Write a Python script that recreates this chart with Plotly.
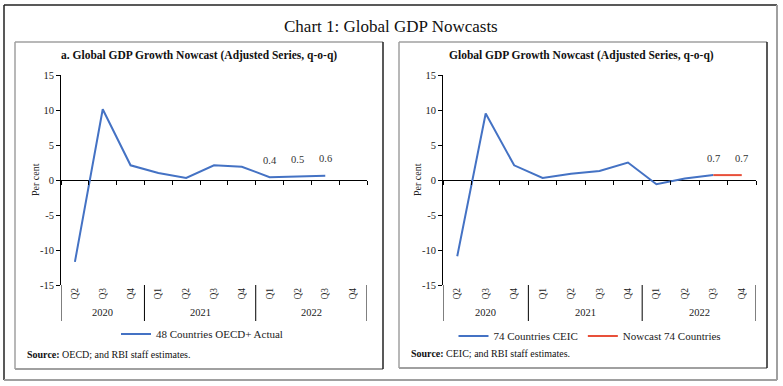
import plotly.graph_objects as go

W, H = 783, 386

years = ["2020"] * 3 + ["2021"] * 4 + ["2022"] * 4
quarters = ["Q2", "Q3", "Q4", "Q1", "Q2", "Q3", "Q4", "Q1", "Q2", "Q3", "Q4"]
flat_labels = [f"{y} {q}" for y, q in zip(years, quarters)]

y_tick_vals = [-15, -10, -5, 0, 5, 10, 15]
y_tick_text = ["-15", "-10", "-5", "0", "5", "10", "15"]

oecd_actual = [-11.7, 10.1, 2.1, 1.0, 0.3, 2.1, 1.9, 0.4, 0.5, 0.6, None]
ceic_actual = [-10.9, 9.5, 2.1, 0.3, 0.9, 1.3, 2.5, -0.6, 0.2, 0.7, None]
nowcast_74 = [None, None, None, None, None, None, None, None, None, 0.7, 0.7]

left_labels_idx = [7, 8, 9]
right_labels_idx = [9, 10]

BLUE = "#4472C4"
RED = "#E8503A"
FONT = "Liberation Serif"


def px(x):
    return x / W


def py(y):
    return 1 - y / H


fig = go.Figure()

fig.add_trace(go.Scatter(x=flat_labels, y=oecd_actual, mode="lines",
                         line=dict(color=BLUE, width=2),
                         name="48 Countries OECD+ Actual",
                         xaxis="x", yaxis="y", legend="legend"))
fig.add_trace(go.Scatter(x=flat_labels, y=ceic_actual, mode="lines",
                         line=dict(color=BLUE, width=2),
                         name="74 Countries CEIC",
                         xaxis="x2", yaxis="y2", legend="legend2"))
fig.add_trace(go.Scatter(x=flat_labels, y=nowcast_74, mode="lines",
                         line=dict(color=RED, width=2),
                         name="Nowcast 74 Countries",
                         xaxis="x2", yaxis="y2", legend="legend2"))
# invisible traces for boundary tick axes on the zero line
fig.add_trace(go.Scatter(x=flat_labels, y=[None] * len(flat_labels), xaxis="x3", yaxis="y",
                         showlegend=False, hoverinfo="skip"))
fig.add_trace(go.Scatter(x=flat_labels, y=[None] * len(flat_labels), xaxis="x4", yaxis="y2",
                         showlegend=False, hoverinfo="skip"))

annotations = []
for i in left_labels_idx:
    annotations.append(dict(x=flat_labels[i], y=oecd_actual[i], xref="x", yref="y",
                            text=f"{oecd_actual[i]:.1f}", xanchor="center", yanchor="middle",
                            showarrow=False, yshift=17, font=dict(size=10.5, color="#333")))
for i in right_labels_idx:
    annotations.append(dict(x=flat_labels[i], y=nowcast_74[i], xref="x2", yref="y2",
                            text=f"{nowcast_74[i]:.1f}", xanchor="center", yanchor="middle",
                            showarrow=False, yshift=17, font=dict(size=10.5, color="#333")))

# year group labels and dividers, derived from the category lists
shapes = []
groups = []
for i, yr in enumerate(years):
    if not groups or groups[-1][0] != yr:
        groups.append([yr, i, i])
    else:
        groups[-1][2] = i

for xr in ("x", "x2"):
    for yr, i0, i1 in groups:
        annotations.append(dict(x=(i0 + i1) / 2, y=py(312), xref=xr, yref="paper", text=yr,
                                xanchor="center", yanchor="middle",
                                showarrow=False, font=dict(size=10.5, color="#222")))
    bounds = [groups[0][1] - 0.5] + [g[2] + 0.5 for g in groups]
    for b in bounds:
        shapes.append(dict(type="line", xref=xr, yref="paper", x0=b, x1=b,
                           y0=py(285), y1=py(321), line=dict(color="black", width=1)))


def ptext(x, y, text, size, xanchor="center", angle=0, color="#111"):
    annotations.append(dict(x=px(x), y=py(y), xref="paper", yref="paper", text=text,
                            xanchor=xanchor, yanchor="middle", textangle=angle,
                            showarrow=False, font=dict(size=size, color=color)))


ptext(391, 26, "Chart 1: Global GDP Nowcasts", 17)
ptext(199, 55, "<b>a. Global GDP Growth Nowcast (Adjusted Series, q-o-q)</b>", 11.5)
ptext(581, 55, "<b>Global GDP Growth Nowcast (Adjusted Series, q-o-q)</b>", 11.5)
ptext(25, 354, "<b>Source:</b> OECD; and RBI staff estimates.", 10, xanchor="left")
ptext(409, 353, "<b>Source:</b> CEIC; and RBI staff estimates.", 10, xanchor="left")
ptext(35, 180, "Per cent", 10, angle=-90, color="#222")
ptext(417, 180, "Per cent", 10, angle=-90, color="#222")

GRAY = "#a0a0a0"
DARK = "#222222"


def line(x0, y0, x1, y1, color, width=1.5):
    shapes.append(dict(type="line", xref="paper", yref="paper",
                       x0=px(x0), y0=py(y0), x1=px(x1), y1=py(y1),
                       line=dict(color=color, width=width)))


# outer frame
line(4, 5, 777, 5, DARK)
line(4, 5, 4, 380, DARK)
line(777, 5, 777, 380, GRAY, 2)
line(4, 380, 777, 380, GRAY, 2)
# left panel
line(15, 42, 383, 42, GRAY)
line(15, 42, 15, 369, GRAY)
line(15, 369, 383, 369, GRAY, 2)
line(383, 42, 383, 369, DARK)
# right panel
line(399, 42, 767, 42, GRAY)
line(399, 42, 399, 368, GRAY)
line(399, 368, 767, 368, GRAY, 2)
line(767, 42, 767, 368, DARK)

ydom = [py(285), py(75)]
zero_pos = py(180)

yaxis_common = dict(range=[-15, 15], tickmode="array", tickvals=y_tick_vals, ticktext=y_tick_text,
                    ticks="outside", ticklen=4, tickcolor="black",
                    showline=True, linecolor="black", linewidth=1, showgrid=False,
                    zeroline=True, zerolinecolor="black", zerolinewidth=1,
                    tickfont=dict(size=10.5, color="#222"), domain=ydom, automargin=False)

xaxis_common = dict(type="category", showgrid=False, showline=False, ticks="",
                    tickmode="array", tickvals=flat_labels, ticktext=quarters,
                    tickangle=-90, tickfont=dict(size=9.5, color="#222"),
                    range=[-0.5, len(flat_labels) - 0.5], automargin=False, zeroline=False)

xtick_common = dict(type="category", showgrid=False, showline=False, showticklabels=False,
                    ticks="outside", ticklen=4, tickcolor="black", tickson="boundaries",
                    range=[-0.5, len(flat_labels) - 0.5],
                    zeroline=False, anchor="free", position=zero_pos, automargin=False)

fig.update_layout(
    width=W, height=H, margin=dict(l=0, r=0, t=0, b=0, autoexpand=False),
    paper_bgcolor="white", plot_bgcolor="white",
    font=dict(family=FONT, color="#222"),
    showlegend=True,
    xaxis=dict(domain=[px(61), px(367)], anchor="y", **xaxis_common),
    yaxis=dict(anchor="x", **yaxis_common),
    xaxis2=dict(domain=[px(443), px(756)], anchor="y2", **xaxis_common),
    yaxis2=dict(anchor="x2", **yaxis_common),
    xaxis3=dict(domain=[px(61), px(367)], overlaying="x", **xtick_common),
    xaxis4=dict(domain=[px(443), px(756)], overlaying="x2", **xtick_common),
    legend=dict(orientation="h", x=px(202), y=py(334), xanchor="center", yanchor="middle",
                font=dict(size=11, color="#222"), bgcolor="rgba(0,0,0,0)"),
    legend2=dict(orientation="h", x=px(590), y=py(336), xanchor="center", yanchor="middle",
                 font=dict(size=11, color="#222"), bgcolor="rgba(0,0,0,0)"),
    annotations=annotations,
    shapes=shapes,
)

fig.write_html("out.html", config={"displayModeBar": False},
               post_script="document.body.style.margin='0';")
